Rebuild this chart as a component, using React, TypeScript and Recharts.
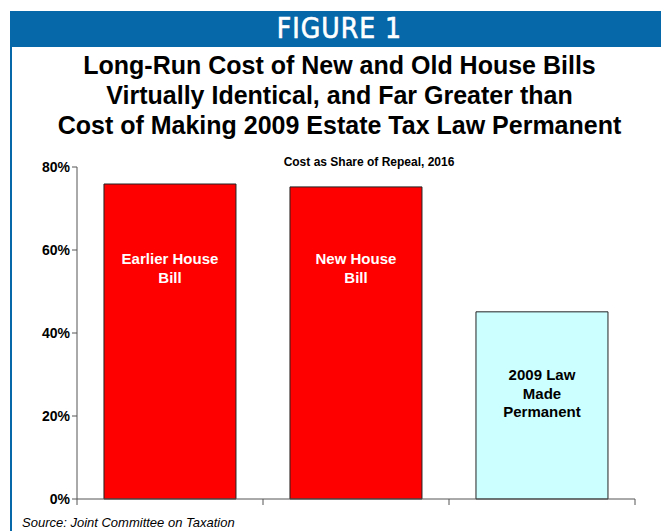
import React from "react";
import { Bar, BarChart, Cell, LabelList, XAxis, YAxis } from "recharts";

const categories = ["Earlier House Bill", "New House Bill", "2009 Law Made Permanent"];
const costShare = [75.9, 75.2, 45.1];
const barLabels = [["Earlier House", "Bill"], ["New House", "Bill"], ["2009 Law", "Made", "Permanent"]];
const barColors = ["#ff0000", "#ff0000", "#ccffff"];
const labelColors = ["#ffffff", "#ffffff", "#000000"];
const yTicks = [0, 20, 40, 60, 80];
const titleLines = [
  "Long-Run Cost of New and Old House Bills",
  "Virtually Identical, and Far Greater than",
  "Cost of Making 2009 Estate Tax Law Permanent",
];

const data = categories.map((name, i) => ({ name, value: costShare[i], idx: i }));

const W = 661;
const H = 531;
const PLOT_LEFT = 77;
const PLOT_RIGHT = 635;
const BAND = (PLOT_RIGHT - PLOT_LEFT) / categories.length;
const FONT = "'Liberation Sans', Arial, sans-serif";
const BLUE = "#0667a9";

function BoundaryTick(props: any) {
  const { x, y, index } = props;
  const lines = [<line key="r" x1={x + BAND / 2} x2={x + BAND / 2} y1={y - 8} y2={y - 2} stroke="#555" />];
  if (index === 0) lines.push(<line key="l" x1={x - BAND / 2} x2={x - BAND / 2} y1={y - 8} y2={y - 2} stroke="#555" />);
  return <g>{lines}</g>;
}

function BarText(props: any) {
  const { x, width, index, viewBox } = props;
  const lines = barLabels[index];
  const dark = labelColors[index] === "#000000";
  const bottom = viewBox.y + viewBox.height;
  const start = bottom - (dark ? 119 : 235);
  return (
    <text
      textAnchor="middle"
      fill={labelColors[index]}
      fontFamily={FONT}
      fontWeight="bold"
      fontSize={15}
    >
      {lines.map((l: string, i: number) => (
        <tspan key={i} x={x + width / 2} y={start + i * 18.5}>
          {l}
        </tspan>
      ))}
    </text>
  );
}

export default function App() {
  return (
    <div style={{ position: "absolute", left: 0, top: 0, width: W, height: H, background: "#fff", overflow: "hidden", fontFamily: FONT }}>
      <div style={{ position: "absolute", left: 10, top: 11, width: W - 10, height: 36, background: BLUE }} />
      <div style={{ position: "absolute", left: 0, top: 11, width: 679, height: 36, color: "#fff", textAlign: "center", fontFamily: "'Liberation Sans Narrow', 'DejaVu Sans Condensed', sans-serif", fontSize: 28, letterSpacing: 1, lineHeight: "36px", WebkitTextStroke: "0.6px #fff" }}>
        FIGURE 1
      </div>
      <div style={{ position: "absolute", left: 10, top: 11, width: 2, height: H - 11, background: BLUE }} />
      <div style={{ position: "absolute", left: 0, top: 50, width: 679, textAlign: "center", fontWeight: "bold", fontSize: 25, lineHeight: "30px", color: "#000" }}>
        {titleLines.map((t) => (
          <div key={t}>{t}</div>
        ))}
      </div>
      <div style={{ position: "absolute", left: 0, top: 155, width: 738, textAlign: "center", fontWeight: "bold", fontSize: 12, color: "#000" }}>
        Cost as Share of Repeal, 2016
      </div>
      <div style={{ position: "absolute", left: 22, top: 515, fontStyle: "italic", fontSize: 13, color: "#000" }}>
        Source: Joint Committee on Taxation
      </div>
      <div style={{ position: "absolute", left: 0, top: 0 }}>
        <BarChart
          width={W}
          height={H}
          data={data}
          margin={{ top: 167, right: W - PLOT_RIGHT, bottom: 0, left: PLOT_LEFT - 60 }}
          barCategoryGap="14.5%"
        >
          <XAxis
            dataKey="name"
            height={32}
            axisLine={{ stroke: "#555" }}
            tickLine={false}
            tick={<BoundaryTick />}
            interval={0}
          />
          <YAxis
            width={60}
            domain={[0, 80]}
            ticks={yTicks}
            tickFormatter={(v) => `${v}%`}
            axisLine={{ stroke: "#555" }}
            tickLine={{ stroke: "#555" }}
            tickSize={5}
            tick={{ fontSize: 14, fontWeight: "bold", fill: "#000", fontFamily: FONT }}
          />
          <Bar dataKey="value" stroke="#222" strokeWidth={1} isAnimationActive={false}>
            {data.map((d) => (
              <Cell key={d.idx} fill={barColors[d.idx]} />
            ))}
            <LabelList dataKey="value" content={<BarText />} />
          </Bar>
        </BarChart>
      </div>
    </div>
  );
}
